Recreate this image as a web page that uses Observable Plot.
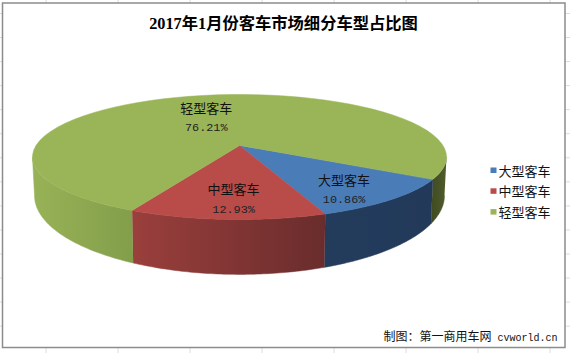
<!DOCTYPE html>
<html>
<head>
<meta charset="utf-8">
<script src="https://cdn.jsdelivr.net/npm/d3@7"></script>
<script src="https://cdn.jsdelivr.net/npm/@observablehq/plot@0.6"></script>
<style>
html,body{margin:0;padding:0;background:#fff;overflow:hidden}
svg{display:block}
</style>
</head>
<body>
<script>
// ---- data ----
const categories = ["大型客车", "中型客车", "轻型客车"];
const shares = [10.86, 12.93, 76.21];
const shareLabels = ["10.86%", "12.93%", "76.21%"];
const title = "2017年1月份客车市场细分车型占比图";
const credit = "制图：第一商用车网";
const creditSite = "cvworld.cn";

// ---- styles ----
const topColors = ["#4a7cb8", "#b94b49", "#99b558"];
const cjk = "'Noto Sans CJK SC'";
const W = 570, H = 353;

// ---- perspective pie geometry ----
const startAngle = 30.5;
const cx = 239, cy = 145, R = 203.5, B = 60.4, k = 0.184;
const silhouette = Math.asin(k) * 180 / Math.PI;
const project = (deg, r = 1) => {
  const a = deg * Math.PI / 180;
  const u = r * Math.cos(a), v = r * Math.sin(a), d = 1 - k * v;
  return [cx + R * u / d, cy + B * v / d];
};
const lower = ([x, y]) => [cx + 0.99 * (x - cx), 226 + 1.26 * (y - 181)];

let acc = startAngle;
const slices = categories.map((name, i) => {
  const a0 = acc, a1 = acc + shares[i] * 3.6;
  acc = a1;
  return {name, i, a0, a1};
});
const arc = (a0, a1) => d3.range(0, 61).map(j => a0 + (a1 - a0) * j / 60);

const wedge = s => [[cx, cy], ...arc(s.a0, s.a1).map(a => project(a))].map(p => ({x: p[0], y: p[1], id: s.i}));
const wall = (a0, a1, id) => {
  const top = arc(a0, a1).map(a => project(a));
  return [...top, ...top.map(lower).reverse()].map(p => ({x: p[0], y: p[1], id}));
};

const [sBlue, sRed, sGreen] = slices;
const walls = [
  {pts: wall(silhouette, sBlue.a0, "gr"), fill: "url(#gr)"},
  {pts: wall(sBlue.a0, sBlue.a1, "bl"), fill: "url(#bl)"},
  {pts: wall(sRed.a0, sRed.a1, "re"), fill: "url(#re)"},
  {pts: wall(sRed.a1, 180 - silhouette, "gl"), fill: "url(#gl)"}
];

const gradients = [
  ["gr", 430, 446, "#3f4a22", "#4f5c2a"],
  ["bl", 326, 433, "#233c5c", "#22395a"],
  ["re", 133, 327, "#9a3f3c", "#692c2c"],
  ["gl", 32, 134, "#98b257", "#829e4a"]
];
const defsMark = () => {
  const defs = d3.create("svg:defs");
  for (const [id, x1, x2, c1, c2] of gradients) {
    const g = defs.append("linearGradient").attr("id", id)
      .attr("gradientUnits", "userSpaceOnUse")
      .attr("x1", x1).attr("x2", x2).attr("y1", 0).attr("y2", 0);
    g.append("stop").attr("offset", 0).attr("stop-color", c1);
    g.append("stop").attr("offset", 1).attr("stop-color", c2);
  }
  return defs.node();
};

// label anchors, placed on the pie disc along each slice
const labelRadius = [0.79, 0.77, 0.53];
const labelShift = [5, -1, -3];
const labels = slices.map((s, i) => {
  const [x, y] = project((s.a0 + s.a1) / 2 + labelShift[i], labelRadius[i]);
  return {x, y, name: s.name, pct: shareLabels[i]};
});

const chart = Plot.plot({
  width: W, height: H,
  margin: 0,
  style: {background: "#fff"},
  x: {domain: [0, W], range: [0, W], axis: null},
  y: {domain: [0, H], range: [0, H], axis: null},
  marks: [
    defsMark,
    Plot.ruleX(d3.range(0, 8), {x: i => 45.5 + 72 * i, stroke: "#dcdcdc", strokeWidth: 1}),
    Plot.ruleY(d3.range(0, 14), {y: i => 13 + 24.05 * i, stroke: "#dcdcdc", strokeWidth: 1}),
    Plot.rect([0], {x1: () => 2.5, x2: () => 565, y1: () => 3, y2: () => 347.5, fill: "#fff", stroke: "#8c8c8c", strokeWidth: 1.5}),
    ...walls.map(w => Plot.line(w.pts, {x: "x", y: "y", fill: w.fill, stroke: w.fill, strokeWidth: 0.5, curve: "linear"})),
    ...slices.map(s => Plot.line(wedge(s), {x: "x", y: "y", fill: topColors[s.i], stroke: topColors[s.i], strokeWidth: 0.5, curve: "linear-closed"})),
    Plot.text(labels, {x: "x", y: d => d.y - 9.5, text: "name", fontFamily: cjk, fontSize: 13, fill: "#111"}),
    Plot.text(labels, {x: "x", y: d => d.y + 9.5, text: "pct", fontFamily: "'Liberation Mono'", fontSize: 11.8, fill: "#222"}),
    Plot.text([title], {x: () => 283, y: () => 23, text: d => d, fontFamily: `'Liberation Serif',${cjk}`, fontWeight: 700, fontSize: 16.3, fill: "#000"}),
    Plot.rect(categories, {x1: () => 490.5, x2: () => 496.5, y1: (d, i) => 167.5 + 20.8 * i, y2: (d, i) => 173 + 20.8 * i, fill: (d, i) => topColors[i]}),
    Plot.text(categories, {x: () => 498, y: (d, i) => 171 + 20.8 * i, text: d => d, textAnchor: "start", fontFamily: cjk, fontSize: 13, fill: "#111"}),
    Plot.text([credit], {x: () => 383, y: () => 337, text: d => d, textAnchor: "start", fontFamily: cjk, fontSize: 12, fill: "#111"}),
    Plot.text([creditSite], {x: () => 497, y: () => 337.5, text: d => d, textAnchor: "start", fontFamily: "'Liberation Mono'", fontSize: 10, fill: "#111"})
  ]
});
document.body.appendChild(chart);
</script>
</body>
</html>
